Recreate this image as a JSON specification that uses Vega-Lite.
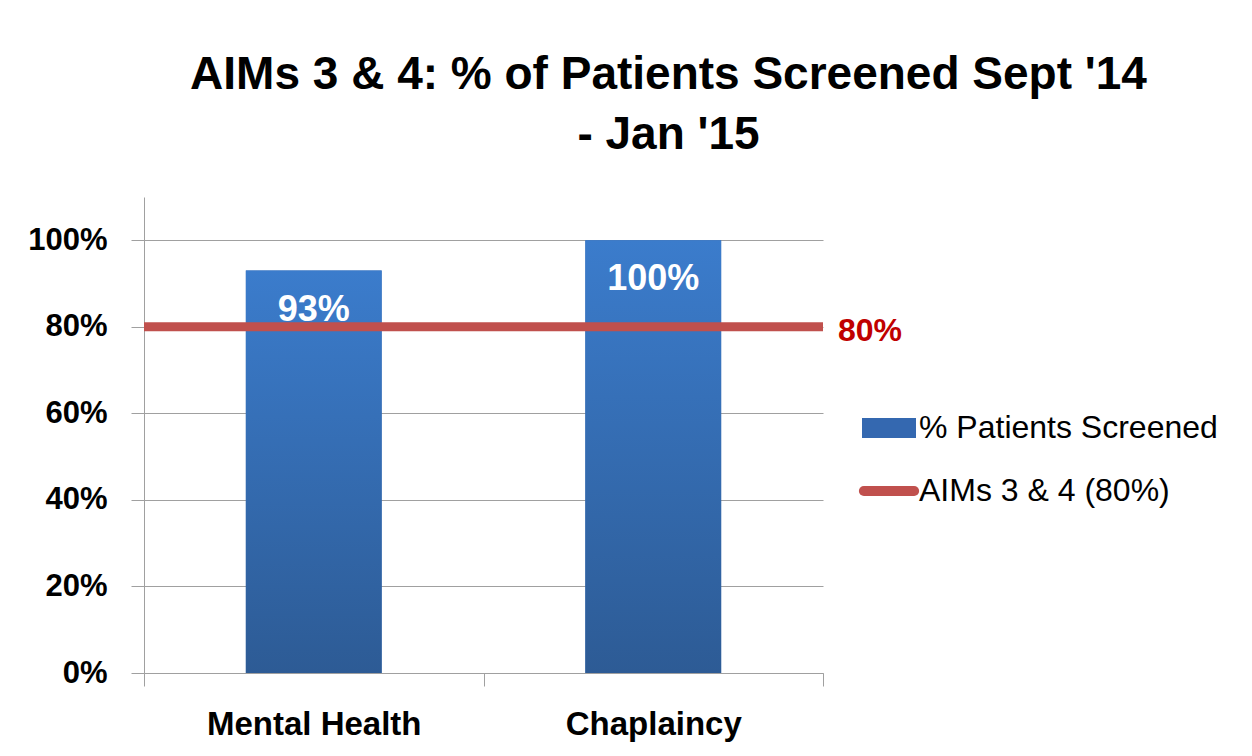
{
  "$schema": "https://vega.github.io/schema/vega-lite/v6.json",
  "width": 679,
  "height": 476,
  "autosize": {"type": "none"},
  "padding": {"left": 144, "top": 197, "right": 429, "bottom": 83},
  "background": "white",
  "title": {
    "text": ["AIMs 3 & 4: % of Patients Screened Sept '14", "- Jan '15"],
    "font": "Liberation Sans",
    "fontSize": 46,
    "fontWeight": "bold",
    "color": "black",
    "anchor": "middle",
    "frame": "group",
    "baseline": "bottom",
    "lineHeight": 60,
    "offset": -8,
    "dx": 185
  },
  "config": {
    "view": {"stroke": null},
    "legend": {"padding": 0}
  },
  "datasets": {
    "bars": [
      {"category": "Mental Health", "value": 0.93, "series": "% Patients Screened"},
      {"category": "Chaplaincy", "value": 1.0, "series": "% Patients Screened"}
    ],
    "target": [
      {"target": 0.8, "series": "AIMs 3 & 4 (80%)", "label": "80%"}
    ]
  },
  "layer": [
    {
      "data": {"name": "bars"},
      "mark": {"type": "bar", "width": {"band": 0.4}},
      "encoding": {
        "x": {
          "field": "category",
          "type": "nominal",
          "sort": ["Mental Health", "Chaplaincy"],
          "scale": {"paddingInner": 0, "paddingOuter": 0},
          "axis": {
            "title": null,
            "labelAngle": 0,
            "labelFont": "Liberation Sans",
            "labelFontSize": 33,
            "labelFontWeight": "bold",
            "labelColor": "black",
            "labelPadding": 22,
            "labelLimit": 0,
            "tickBand": "extent",
            "tickSize": 13,
            "tickColor": "#A0A0A0",
            "domainColor": "#A0A0A0",
            "grid": false
          }
        },
        "y": {
          "field": "value",
          "type": "quantitative",
          "scale": {"domain": [0, 1.1], "nice": false},
          "axis": {
            "title": null,
            "values": [0, 0.2, 0.4, 0.6, 0.8, 1.0],
            "format": ".0%",
            "labelFont": "Liberation Sans",
            "labelFontSize": 31,
            "labelFontWeight": "bold",
            "labelColor": "black",
            "labelPadding": 24,
            "tickSize": 13,
            "tickColor": "#A0A0A0",
            "domainColor": "#A0A0A0",
            "gridColor": "#A0A0A0",
            "grid": true
          }
        },
        "color": {
          "field": "series",
          "type": "nominal",
          "scale": {
            "domain": ["% Patients Screened", "AIMs 3 & 4 (80%)"],
            "range": ["#3468B0", "#C0504D"]
          },
          "legend": {
            "title": null,
            "orient": "none",
            "legendX": 729,
            "legendY": 215,
            "labelFont": "Liberation Sans",
            "labelFontSize": 32,
            "labelColor": "black",
            "labelOffset": 14,
            "labelLimit": 0,
            "rowPadding": 27,
            "symbolSize": 2916,
            "encode": {
              "symbols": {
                "update": {
                  "shape": {"signal": "datum.label === '% Patients Screened' ? 'M-1,-0.37H1V0.37H-1Z' : 'M-0.93,0H0.93'"},
                  "fill": {"signal": "datum.label === '% Patients Screened' ? '#3468B0' : 'transparent'"},
                  "stroke": {"signal": "datum.label === '% Patients Screened' ? 'transparent' : '#C0504D'"},
                  "strokeWidth": {"signal": "datum.label === '% Patients Screened' ? 0 : 10"},
                  "strokeCap": {"value": "round"},
                  "opacity": {"value": 1},
                  "fillOpacity": {"value": 1},
                  "strokeOpacity": {"value": 1}
                }
              }
            }
          }
        }
      }
    },
    {
      "data": {"name": "bars"},
      "mark": {
        "type": "bar",
        "width": {"band": 0.4},
        "color": {
          "gradient": "linear",
          "x1": 0, "y1": 0, "x2": 0, "y2": 1,
          "stops": [
            {"offset": 0, "color": "#3B7CCC"},
            {"offset": 1, "color": "#2D5B95"}
          ]
        }
      },
      "encoding": {
        "x": {"field": "category", "type": "nominal", "sort": ["Mental Health", "Chaplaincy"]},
        "y": {"field": "value", "type": "quantitative"}
      }
    },
    {
      "data": {"name": "bars"},
      "mark": {
        "type": "text",
        "baseline": "top",
        "dy": 22,
        "font": "Liberation Sans",
        "fontSize": 36,
        "fontWeight": "bold",
        "color": "white"
      },
      "encoding": {
        "x": {"field": "category", "type": "nominal", "sort": ["Mental Health", "Chaplaincy"]},
        "y": {"field": "value", "type": "quantitative"},
        "text": {"field": "value", "type": "quantitative", "format": ".0%"}
      }
    },
    {
      "data": {"name": "target"},
      "mark": {"type": "rule", "strokeWidth": 9},
      "encoding": {
        "y": {"field": "target", "type": "quantitative"},
        "color": {"field": "series", "type": "nominal"}
      }
    },
    {
      "data": {"name": "target"},
      "mark": {
        "type": "text",
        "align": "left",
        "baseline": "middle",
        "dx": 15,
        "dy": 4,
        "font": "Liberation Sans",
        "fontSize": 32,
        "fontWeight": "bold",
        "color": "#C00000"
      },
      "encoding": {
        "x": {"value": "width"},
        "y": {"field": "target", "type": "quantitative"},
        "text": {"field": "label", "type": "nominal"}
      }
    }
  ]
}
